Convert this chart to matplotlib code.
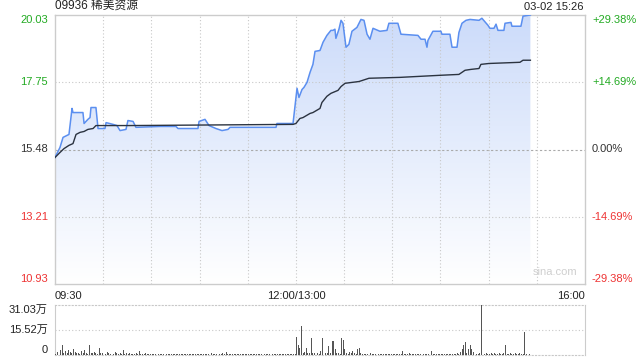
import matplotlib
matplotlib.use("Agg")
import matplotlib.pyplot as plt
import numpy as np
from matplotlib.patches import Polygon

plt.rcParams["font.family"] = ["Liberation Sans", "Noto Sans CJK SC", "DejaVu Sans"]

# ---- data (minutes since 09:30, lunch break collapsed) ----
PREV_CLOSE = 15.48
price_min = [0, 3.1, 5.0, 8.7, 10.6, 11.2, 17.4, 18.1, 20.5, 21.8, 22.4, 25.5, 26.8, 31.1,
             31.8, 36.1, 38.6, 40.5, 44.2, 45.4, 48.6, 50.4, 65.4, 75.3, 76.6, 89.0, 89.7,
             93.4, 95.9, 100.2, 104.0, 107.7, 109.0, 137.6, 138.2, 148.2, 150.7, 151.9,
             153.8, 155.0, 156.9, 158.8, 160.6, 161.9, 165.0, 166.9, 169.3, 171.8, 173.1,
             174.3, 174.9, 176.8, 178.1, 179.3, 181.2, 183.0, 184.9, 188.0, 190.5, 192.4,
             194.3, 196.1, 198.0, 202.3, 206.7, 207.9, 213.5, 215.4, 226.0, 227.9, 230.4,
             231.6, 232.2, 235.3, 240.3, 240.9, 245.9, 247.2, 250.3, 251.5, 253.4, 255.9,
             258.4, 264.0, 265.8, 269.6, 270.8, 273.3, 274.6, 275.8, 279.5, 280.2, 283.9,
             284.5, 290.1, 291.4, 296.0]
price = [15.21, 15.55, 15.89, 15.99, 16.87, 16.73, 16.73, 16.36, 16.50, 16.56, 16.90, 16.90,
         16.19, 16.19, 16.39, 16.33, 16.29, 16.12, 16.16, 16.46, 16.43, 16.23, 16.26, 16.26,
         16.19, 16.19, 16.43, 16.50, 16.29, 16.19, 16.12, 16.16, 16.23, 16.23, 16.36, 16.36,
         17.55, 17.24, 17.51, 17.58, 17.75, 18.09, 18.36, 18.80, 18.83, 19.11, 19.34, 19.51,
         19.51, 19.55, 19.24, 19.55, 19.85, 19.75, 18.94, 19.04, 19.48, 19.61, 19.88, 19.85,
         19.38, 19.21, 19.58, 19.48, 19.51, 19.75, 19.75, 19.38, 19.34, 19.21, 19.21, 18.94,
         19.17, 19.48, 19.48, 19.38, 19.38, 18.94, 18.94, 19.44, 19.75, 19.85, 19.88, 19.85,
         19.92, 19.68, 19.58, 19.58, 19.72, 19.51, 19.51, 19.75, 19.78, 19.65, 19.65, 19.99,
         20.03]

avg_min = [0, 3.1, 5.6, 8.7, 11.2, 13.1, 15.6, 18.1, 20.5, 23.7, 25.5, 46.7, 148.2, 150.0,
           152.5, 154.4, 158.8, 160.6, 165.0, 166.2, 169.3, 171.8, 176.2, 178.1, 180.6,
           189.3, 195.5, 214.8, 239.7, 251.5, 255.3, 259.0, 264.0, 265.2, 270.2, 289.5,
           291.4, 296.0]
avg_price = [15.21, 15.38, 15.51, 15.62, 15.68, 15.99, 16.06, 16.09, 16.16, 16.19, 16.29,
             16.29, 16.33, 16.36, 16.53, 16.56, 16.70, 16.73, 16.87, 17.07, 17.28, 17.38,
             17.48, 17.61, 17.72, 17.78, 17.89, 17.92, 17.99, 18.02, 18.16, 18.19, 18.22,
             18.36, 18.39, 18.43, 18.50, 18.50]

# volume per minute, in 万 shares
volume = [
    0.8, 2.0, 1.2, 3.0, 6.0, 1.5, 2.5, 1.0, 3.0, 2.0, 1.2, 3.5, 2.0, 1.0, 1.5,
    0.8, 2.5, 1.0, 3.0, 1.2, 0.8, 6.0, 1.5, 1.0, 2.0, 1.2, 0.8, 4.5, 1.0, 1.5,
    1.0, 0.8, 2.0, 1.2, 0.6, 1.5, 0.8, 2.0, 1.0, 0.6, 1.2, 0.8, 3.0, 0.8, 1.0,
    0.6, 1.5, 0.8, 0.5, 0.8, 1.0, 0.6, 2.5, 0.8, 0.5, 0.6, 1.2, 0.8, 0.5, 0.6,
    0.5, 0.4, 0.8, 0.5, 0.4, 0.6, 0.5, 0.4, 0.8, 0.5, 0.4, 0.5, 0.6, 0.4, 0.5,
    0.8, 0.4, 0.5, 0.6, 0.4, 0.5, 0.4, 0.6, 0.5, 0.4, 0.8, 0.5, 0.4, 0.6, 0.5,
    0.5, 0.4, 0.6, 0.5, 0.8, 0.4, 0.5, 1.2, 0.6, 0.5, 0.8, 2.5, 0.6, 0.5, 1.0,
    0.8, 2.0, 0.6, 0.5, 0.4, 0.6, 0.5, 0.4, 0.6, 0.5, 0.4, 0.6, 0.5, 0.8, 0.4,
    0.5, 0.4, 0.6, 0.5, 0.8, 0.4, 0.5, 0.6, 0.4, 0.5, 0.4, 0.6, 0.5, 0.4, 0.5,
    0.6, 0.4, 0.5, 0.6, 0.4, 0.5, 0.4, 0.6, 0.5, 0.4, 0.5, 0.8, 0.5, 0.6, 0.5,
    11.0, 6.0, 4.5, 18.0, 1.0, 2.0, 4.5, 1.5, 1.0, 10.5, 1.0, 1.5, 2.0, 1.0, 0.8,
    2.5, 10.5, 18.6, 1.0, 1.5, 5.5, 1.0, 8.5, 8.5, 4.0, 1.0, 1.5, 0.8, 10.5, 9.5,
    4.0, 1.0, 0.8, 2.0, 1.0, 2.5, 1.0, 0.8, 4.0, 4.5, 1.5, 0.8, 0.6, 0.8, 0.6,
    12.0, 1.0, 0.6, 0.5, 0.6, 0.4, 0.5, 0.6, 0.4, 0.5, 0.6, 0.4, 0.5, 0.8, 0.5,
    0.5, 0.4, 0.6, 0.5, 0.8, 0.4, 2.5, 0.5, 0.6, 0.4, 1.0, 0.5, 0.4, 0.6, 0.5,
    0.4, 0.8, 0.5, 0.6, 0.4, 0.5, 0.4, 0.6, 0.5, 2.5, 0.4, 0.5, 0.6, 0.4, 0.5,
    0.6, 0.5, 0.4, 0.8, 0.5, 0.6, 0.4, 0.5, 0.8, 0.6, 1.0, 0.8, 2.0, 4.0, 6.0,
    8.0, 1.5, 4.0, 6.0, 3.5, 2.0, 1.0, 0.8, 0.6, 1.0, 31.03, 0.8, 0.6, 1.0, 0.8,
    0.6, 1.0, 0.8, 1.5, 0.6, 0.8, 1.0, 0.6, 0.8, 1.0, 6.5, 0.8, 0.6, 1.0, 0.8,
    0.6, 1.0, 0.8, 0.6, 1.0, 0.8, 0.6, 14.3, 0.8, 1.0, 0.6,
]

y_ticks = [10.93, 13.21, 15.48, 17.75, 20.03]
pct_labels = ["-29.38%", "-14.69%", "0.00%", "+14.69%", "+29.38%"]
tick_colors = ["#ee3333", "#ee3333", "#333333", "#22aa22", "#22aa22"]
tick_va = ["bottom", "center", "center", "center", "top"]
vol_ticks = [0, 15.52, 31.03]
vol_labels = ["0", "15.52万", "31.03万"]
vol_va = ["bottom", "center", "top"]

GRID = "#c8c8c8"
SPINE = "#cccccc"

fig = plt.figure(figsize=(6.4, 3.6), dpi=100)
ax = fig.add_axes([55 / 640, 1 - 284 / 360, 530 / 640, 269 / 360])
axv = fig.add_axes([55 / 640, 1 - 355 / 360, 530 / 640, 50 / 360])

# ---- price panel ----
ax.set_xlim(0, 330)
ax.set_ylim(y_ticks[0], y_ticks[-1])

# gradient fill under price line
grad = np.linspace(0, 1, 256).reshape(-1, 1)
top_c = np.array([0.80, 0.86, 0.98])
bot_c = np.array([1.0, 1.0, 1.0])
img = bot_c + (top_c - bot_c) * grad
img = img[:, None, :].repeat(2, axis=1)
im = ax.imshow(img, extent=[0, price_min[-1], y_ticks[0], y_ticks[-1]], origin="lower",
               aspect="auto", zorder=1)
poly_xy = list(zip(price_min, price)) + [(price_min[-1], y_ticks[0]), (0, y_ticks[0])]
clip = Polygon(poly_xy, closed=True, transform=ax.transData, facecolor="none", edgecolor="none")
ax.add_patch(clip)
im.set_clip_path(clip)

for t in [13.21, 17.75]:
    ax.axhline(t, color=GRID, lw=0.8, ls=(0, (1, 2)), zorder=2)
ax.axhline(PREV_CLOSE, color="#aaaaaa", lw=0.8, ls=(0, (2, 2)), zorder=2)
for m in range(30, 330, 30):
    ax.axvline(m, color=GRID, lw=0.8, ls=(0, (1, 2)), zorder=2)

ax.plot(price_min, price, color="#5b8ff0", lw=1.1, zorder=4)
ax.plot(avg_min, avg_price, color="#2b3340", lw=1.0, zorder=5)

ax.set_yticks(y_ticks)
ax.set_yticklabels([f"{v:.2f}" for v in y_ticks], fontsize=8)
for lab, c, va in zip(ax.get_yticklabels(), tick_colors, tick_va):
    lab.set_color(c)
    lab.set_va(va)
ax.tick_params(axis="y", length=0, pad=5)
ax.set_xticks([])
for s in ax.spines.values():
    s.set_color(SPINE)
    s.set_linewidth(1.0)

axr = ax.twinx()
axr.set_ylim(ax.get_ylim())
axr.set_yticks(y_ticks)
axr.set_yticklabels(pct_labels, fontsize=8)
for lab, c, va in zip(axr.get_yticklabels(), tick_colors, tick_va):
    lab.set_color(c)
    lab.set_va(va)
axr.tick_params(axis="y", length=0, pad=5)
for s in axr.spines.values():
    s.set_visible(False)

ax.text(0, 1.012, "09936 稀美资源", transform=ax.transAxes, fontsize=8.5,
        color="#222222", ha="left", va="bottom")
ax.text(0.997, 1.012, "03-02 15:26", transform=ax.transAxes, fontsize=8,
        color="#222222", ha="right", va="bottom")
ax.text(0.985, 0.025, "sina.com", transform=ax.transAxes, fontsize=8,
        color="#cfcfcf", ha="right", va="bottom")
ax.text(0, -0.025, "09:30", transform=ax.transAxes, fontsize=8, ha="left", va="top", color="#222222")
ax.text(150 / 330, -0.025, "12:00/13:00", transform=ax.transAxes, fontsize=8, ha="center",
        va="top", color="#222222")
ax.text(1, -0.025, "16:00", transform=ax.transAxes, fontsize=8, ha="right", va="top", color="#222222")

# ---- volume panel ----
axv.set_xlim(0, 330)
axv.set_ylim(0, vol_ticks[-1])
axv.bar(np.arange(len(volume)) + 0.5, volume, width=0.6, color="#555555", zorder=3)
axv.axhline(vol_ticks[1], color=GRID, lw=0.8, ls=(0, (1, 2)), zorder=1)
axv.set_yticks(vol_ticks)
axv.set_yticklabels(vol_labels, fontsize=8, color="#222222")
for lab, va in zip(axv.get_yticklabels(), vol_va):
    lab.set_va(va)
axv.tick_params(axis="y", length=0, pad=5)
axv.set_xticks([])
for side in ["left", "right"]:
    axv.spines[side].set_color(SPINE)
for side in ["top", "bottom"]:
    axv.spines[side].set_color(GRID)
    axv.spines[side].set_linestyle((0, (1, 2)))
    axv.spines[side].set_linewidth(0.8)

fig.savefig("out.png", dpi=100)
